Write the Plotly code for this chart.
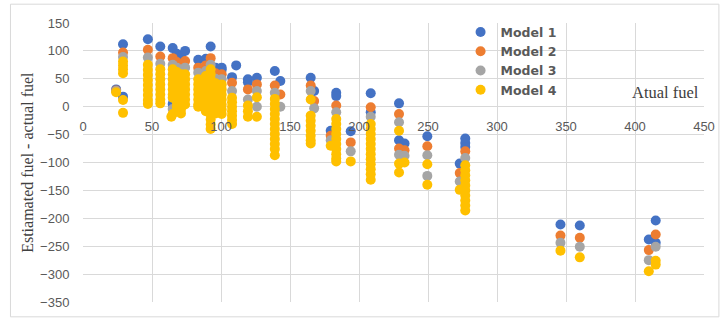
import plotly.graph_objects as go

# Actual fuel (x) and estimation error (y = estimated - actual) for each model
m1_fuel = [24, 29, 29, 47, 56, 65, 65, 68, 71, 74, 83.5, 89, 92.5, 96, 100.5, 100.5,
           108, 111, 119.5, 119.5, 126, 139, 143, 165, 167.5, 179.5, 183.5, 183.5,
           194, 208.5, 208.5, 229, 229, 233, 249.5, 277, 277, 277, 273,
           346, 360, 415, 415, 410]
m1_err = [31, 112, 18, 121, 108, 105, 5, 95, 90, 100, 84, 86, 108, 70, 70, 66,
          53, 74, 49, 44, 52, 64, 46, 52, 28, -43, 25, 19,
          -44, 24, -10, 6, -60, -66, -53, -57, -65, -72, -102,
          -211, -213, -204, -244, -238]

m2_fuel = [24, 29, 47, 56, 65, 68, 71, 74, 83.5, 89, 92.5, 96, 100.5, 108,
           119.5, 126, 139, 143, 165, 167.5, 179.5, 183.5, 194, 208.5,
           229, 229, 233, 249.5, 277, 273, 346, 360, 415, 410]
m2_err = [29, 97, 102, 90, 87, 80, 76, 82, 70, 74, 87, 60, 58, 43,
          31, 40, 38, 22, 38, 10, -52, 2, -64, -1,
          -13, -75, -78, -71, -80, -119, -231, -235, -229, -257]

m3_fuel = [24, 29, 47, 56, 65, 65, 68, 71, 74, 83.5, 89, 92.5, 96, 100.5, 108,
           119.5, 126, 126, 139, 143, 165, 167.5, 179.5, 183.5, 194, 208.5,
           229, 229, 233, 249.5, 249.5, 277, 273, 346, 360, 415, 410]
m3_err = [28, 89, 88, 77, 75, -4, 70, 66, 70, 61, 64, 75, 50, 49, 28,
          13, 28, 0, 25, 0, 28, -3, -60, -10, -80, -18,
          -28, -86, -88, -87, -124, -92, -134, -244, -251, -251, -275]

m4_fuel = ([24] + [29] * 6 + [47] * 9 + [56] * 8 + [65] * 8 + [64]
           + [68] * 9 + [71] * 9 + [74] * 7 + [83.5] * 7 + [89] * 8
           + [92.5] * 13 + [96] * 7 + [100.5] * 7 + [108] * 7
           + [119.5] * 3 + [126] * 2 + [139] * 12 + [165] * 8 + [179.5]
           + [183.5] * 10 + [194] + [208.5] * 12 + [229] * 3 + [233]
           + [249.5] * 2 + [277] * 10 + [273] + [346] + [360] + [415] * 2 + [410])
m4_err = [26,
          81, 74, 67, 60, 12, -11,
          75, 66, 57, 48, 39, 30, 21, 12, 5,
          67, 58, 49, 40, 31, 22, 13, 6,
          67, 58, 49, 40, 31, 22, 16, -13, -18,
          62, 53, 44, 35, 26, 17, 8, 0, -8,
          58, 49, 40, 31, 22, 13, 4, -4, -12,
          58, 49, 40, 31, 22, 13, 4,
          49, 40, 31, 22, 13, 4, 0,
          55, 46, 37, 28, 19, 10, 1, -8,
          67, 58, 49, 40, 31, 22, 13, 4, -5, -14, -23, -32, -40,
          42, 33, 24, 15, 6, -3, -12,
          40, 31, 22, 13, 4, -5, -13,
          16, 8, 0, -8, -16, -24, -31,
          2, -8, -18,
          17, -18,
          14, 5, -4, -13, -22, -31, -40, -49, -58, -67, -76, -87,
          13, -16, -25, -34, -43, -52, -60, -66,
          -70,
          -22, -31, -40, -49, -58, -67, -76, -85, -93, -98,
          -98,
          -31, -40, -49, -58, -67, -76, -85, -94, -103, -112, -121, -131,
          -43, -102, -118,
          -100,
          -103, -140,
          -105, -114, -123, -132, -141, -150, -159, -168, -177, -186,
          -149,
          -258, -270, -276, -283, -295]

series_names = ["Model 1", "Model 2", "Model 3", "Model 4"]
series_colors = ["#4472C4", "#ED7D31", "#A5A5A5", "#FFC000"]
x_ticks = [0, 50, 100, 150, 200, 250, 300, 350, 400, 450]
y_ticks = [150, 100, 50, 0, -50, -100, -150, -200, -250, -300, -350]

grid = "#D9D9D9"
tick_font = dict(family="Liberation Sans", size=13, color="#595959")
serif = "Liberation Serif"

fig = go.Figure()
for name, color, xs, ys in zip(series_names, series_colors,
                               [m1_fuel, m2_fuel, m3_fuel, m4_fuel],
                               [m1_err, m2_err, m3_err, m4_err]):
    fig.add_trace(go.Scatter(x=xs, y=ys, mode="markers", name=name,
                             marker=dict(color=color, size=10, line=dict(width=0))))

fig.update_layout(
    width=727, height=322,
    margin=dict(l=83, r=19, t=23, b=17),
    paper_bgcolor="white", plot_bgcolor="white",
    showlegend=True,
    legend=dict(x=0.608, y=1.02, xanchor="left", yanchor="top",
                bgcolor="rgba(0,0,0,0)", borderwidth=0,
                font=dict(family="DejaVu Sans", size=12.5, color="#595959",
                          weight="bold"),
                itemwidth=30, tracegroupgap=0),
    xaxis=dict(range=[0, 450], tickvals=x_ticks, showgrid=True, gridcolor=grid,
               gridwidth=1, zeroline=False, showline=False,
               anchor="free", position=0.7,
               ticks="outside", ticklen=8, tickcolor="rgba(0,0,0,0)",
               tickfont=tick_font),
    yaxis=dict(range=[-350, 150], tickvals=y_ticks, showgrid=True, gridcolor=grid,
               gridwidth=1, zeroline=True, zerolinecolor=grid, zerolinewidth=1,
               showline=False, ticks="outside", ticklen=10,
               tickcolor="rgba(0,0,0,0)", tickfont=tick_font),
    annotations=[
        dict(text="Estiamated fuel - actual fuel", xref="paper", yref="paper",
             x=-0.0896, y=0.5, textangle=-90, showarrow=False,
             xanchor="center", yanchor="middle",
             font=dict(family=serif, size=16, color="#404040")),
        dict(text="Atual fuel", xref="x", yref="y", x=422, y=26,
             showarrow=False, xanchor="center", yanchor="middle",
             font=dict(family=serif, size=16.5, color="#404040")),
    ],
    shapes=[
        dict(type="rect", xref="paper", yref="paper",
             x0=(10 - 83) / 625, x1=(723 - 83) / 625,
             y0=(305 - 320) / 282, y1=(305 - 4) / 282,
             line=dict(color=grid, width=1), fillcolor="rgba(0,0,0,0)",
             layer="below"),
    ],
)

fig.write_html("out.html")
